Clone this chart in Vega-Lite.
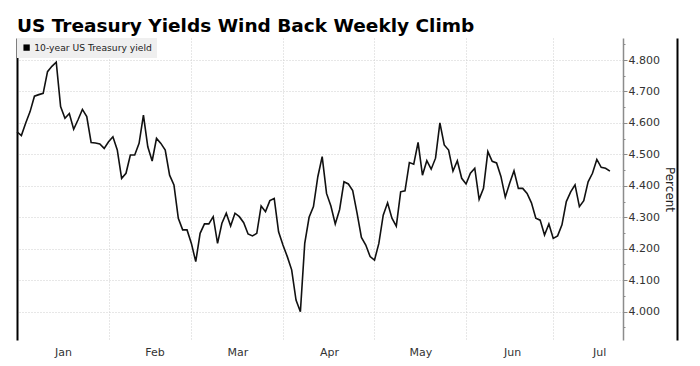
{
  "$schema": "https://vega.github.io/schema/vega-lite/v6.json",
  "width": 606,
  "height": 302,
  "autosize": {"type": "none"},
  "padding": {"left": 17, "top": 38, "right": 77, "bottom": 26},
  "background": "white",
  "title": {"text": "US Treasury Yields Wind Back Weekly Climb", "anchor": "start", "frame": "group", "font": "DejaVu Sans", "fontSize": 18.5, "fontWeight": "bold", "color": "#000", "offset": 3},
  "data": {"values": [
    {"date": "2024-12-31", "yield": 4.572},
    {"date": "2025-01-02", "yield": 4.560},
    {"date": "2025-01-03", "yield": 4.600},
    {"date": "2025-01-06", "yield": 4.636},
    {"date": "2025-01-07", "yield": 4.685},
    {"date": "2025-01-08", "yield": 4.690},
    {"date": "2025-01-09", "yield": 4.694},
    {"date": "2025-01-10", "yield": 4.763},
    {"date": "2025-01-13", "yield": 4.780},
    {"date": "2025-01-14", "yield": 4.793},
    {"date": "2025-01-15", "yield": 4.652},
    {"date": "2025-01-16", "yield": 4.615},
    {"date": "2025-01-17", "yield": 4.630},
    {"date": "2025-01-21", "yield": 4.580},
    {"date": "2025-01-22", "yield": 4.610},
    {"date": "2025-01-23", "yield": 4.643},
    {"date": "2025-01-24", "yield": 4.620},
    {"date": "2025-01-27", "yield": 4.538},
    {"date": "2025-01-28", "yield": 4.536},
    {"date": "2025-01-29", "yield": 4.533},
    {"date": "2025-01-30", "yield": 4.519},
    {"date": "2025-01-31", "yield": 4.540},
    {"date": "2025-02-03", "yield": 4.556},
    {"date": "2025-02-04", "yield": 4.514},
    {"date": "2025-02-05", "yield": 4.424},
    {"date": "2025-02-06", "yield": 4.440},
    {"date": "2025-02-07", "yield": 4.498},
    {"date": "2025-02-10", "yield": 4.498},
    {"date": "2025-02-11", "yield": 4.535},
    {"date": "2025-02-12", "yield": 4.625},
    {"date": "2025-02-13", "yield": 4.524},
    {"date": "2025-02-14", "yield": 4.479},
    {"date": "2025-02-18", "yield": 4.551},
    {"date": "2025-02-19", "yield": 4.535},
    {"date": "2025-02-20", "yield": 4.514},
    {"date": "2025-02-21", "yield": 4.434},
    {"date": "2025-02-24", "yield": 4.403},
    {"date": "2025-02-25", "yield": 4.297},
    {"date": "2025-02-26", "yield": 4.260},
    {"date": "2025-02-27", "yield": 4.260},
    {"date": "2025-02-28", "yield": 4.217},
    {"date": "2025-03-03", "yield": 4.159},
    {"date": "2025-03-04", "yield": 4.249},
    {"date": "2025-03-05", "yield": 4.279},
    {"date": "2025-03-06", "yield": 4.279},
    {"date": "2025-03-07", "yield": 4.302},
    {"date": "2025-03-10", "yield": 4.217},
    {"date": "2025-03-11", "yield": 4.281},
    {"date": "2025-03-12", "yield": 4.313},
    {"date": "2025-03-13", "yield": 4.272},
    {"date": "2025-03-14", "yield": 4.313},
    {"date": "2025-03-17", "yield": 4.302},
    {"date": "2025-03-18", "yield": 4.283},
    {"date": "2025-03-19", "yield": 4.247},
    {"date": "2025-03-20", "yield": 4.241},
    {"date": "2025-03-21", "yield": 4.249},
    {"date": "2025-03-24", "yield": 4.336},
    {"date": "2025-03-25", "yield": 4.318},
    {"date": "2025-03-26", "yield": 4.353},
    {"date": "2025-03-27", "yield": 4.360},
    {"date": "2025-03-28", "yield": 4.254},
    {"date": "2025-03-31", "yield": 4.212},
    {"date": "2025-04-01", "yield": 4.175},
    {"date": "2025-04-02", "yield": 4.133},
    {"date": "2025-04-03", "yield": 4.037},
    {"date": "2025-04-04", "yield": 4.000},
    {"date": "2025-04-07", "yield": 4.217},
    {"date": "2025-04-08", "yield": 4.300},
    {"date": "2025-04-09", "yield": 4.334},
    {"date": "2025-04-10", "yield": 4.429},
    {"date": "2025-04-11", "yield": 4.493},
    {"date": "2025-04-14", "yield": 4.376},
    {"date": "2025-04-15", "yield": 4.336},
    {"date": "2025-04-16", "yield": 4.279},
    {"date": "2025-04-17", "yield": 4.325},
    {"date": "2025-04-21", "yield": 4.413},
    {"date": "2025-04-22", "yield": 4.406},
    {"date": "2025-04-23", "yield": 4.385},
    {"date": "2025-04-24", "yield": 4.313},
    {"date": "2025-04-25", "yield": 4.236},
    {"date": "2025-04-28", "yield": 4.212},
    {"date": "2025-04-29", "yield": 4.175},
    {"date": "2025-04-30", "yield": 4.164},
    {"date": "2025-05-01", "yield": 4.217},
    {"date": "2025-05-02", "yield": 4.307},
    {"date": "2025-05-05", "yield": 4.346},
    {"date": "2025-05-06", "yield": 4.297},
    {"date": "2025-05-07", "yield": 4.272},
    {"date": "2025-05-08", "yield": 4.381},
    {"date": "2025-05-09", "yield": 4.384},
    {"date": "2025-05-12", "yield": 4.474},
    {"date": "2025-05-13", "yield": 4.469},
    {"date": "2025-05-14", "yield": 4.538},
    {"date": "2025-05-15", "yield": 4.434},
    {"date": "2025-05-16", "yield": 4.480},
    {"date": "2025-05-19", "yield": 4.453},
    {"date": "2025-05-20", "yield": 4.488},
    {"date": "2025-05-21", "yield": 4.600},
    {"date": "2025-05-22", "yield": 4.530},
    {"date": "2025-05-23", "yield": 4.514},
    {"date": "2025-05-27", "yield": 4.447},
    {"date": "2025-05-28", "yield": 4.480},
    {"date": "2025-05-29", "yield": 4.424},
    {"date": "2025-05-30", "yield": 4.406},
    {"date": "2025-06-02", "yield": 4.440},
    {"date": "2025-06-03", "yield": 4.456},
    {"date": "2025-06-04", "yield": 4.357},
    {"date": "2025-06-05", "yield": 4.392},
    {"date": "2025-06-06", "yield": 4.509},
    {"date": "2025-06-09", "yield": 4.478},
    {"date": "2025-06-10", "yield": 4.473},
    {"date": "2025-06-11", "yield": 4.430},
    {"date": "2025-06-12", "yield": 4.364},
    {"date": "2025-06-13", "yield": 4.408},
    {"date": "2025-06-16", "yield": 4.448},
    {"date": "2025-06-17", "yield": 4.392},
    {"date": "2025-06-18", "yield": 4.392},
    {"date": "2025-06-20", "yield": 4.376},
    {"date": "2025-06-23", "yield": 4.346},
    {"date": "2025-06-24", "yield": 4.297},
    {"date": "2025-06-25", "yield": 4.291},
    {"date": "2025-06-26", "yield": 4.244},
    {"date": "2025-06-27", "yield": 4.279},
    {"date": "2025-06-30", "yield": 4.233},
    {"date": "2025-07-01", "yield": 4.241},
    {"date": "2025-07-02", "yield": 4.276},
    {"date": "2025-07-03", "yield": 4.350},
    {"date": "2025-07-07", "yield": 4.381},
    {"date": "2025-07-08", "yield": 4.403},
    {"date": "2025-07-09", "yield": 4.334},
    {"date": "2025-07-10", "yield": 4.353},
    {"date": "2025-07-11", "yield": 4.413},
    {"date": "2025-07-14", "yield": 4.440},
    {"date": "2025-07-15", "yield": 4.484},
    {"date": "2025-07-16", "yield": 4.459},
    {"date": "2025-07-17", "yield": 4.456},
    {"date": "2025-07-18", "yield": 4.447}
  ]},
  "encoding": {
    "x": {
      "field": "date",
      "type": "ordinal",
      "scale": {"type": "point", "padding": 0.001, "domain": [
        "2024-12-31","2025-01-02","2025-01-03","2025-01-06","2025-01-07","2025-01-08","2025-01-09","2025-01-10","2025-01-13","2025-01-14","2025-01-15","2025-01-16","2025-01-17","2025-01-21","2025-01-22","2025-01-23","2025-01-24","2025-01-27","2025-01-28","2025-01-29","2025-01-30","2025-01-31",
        "2025-02-03","2025-02-04","2025-02-05","2025-02-06","2025-02-07","2025-02-10","2025-02-11","2025-02-12","2025-02-13","2025-02-14","2025-02-18","2025-02-19","2025-02-20","2025-02-21","2025-02-24","2025-02-25","2025-02-26","2025-02-27","2025-02-28",
        "2025-03-03","2025-03-04","2025-03-05","2025-03-06","2025-03-07","2025-03-10","2025-03-11","2025-03-12","2025-03-13","2025-03-14","2025-03-17","2025-03-18","2025-03-19","2025-03-20","2025-03-21","2025-03-24","2025-03-25","2025-03-26","2025-03-27","2025-03-28","2025-03-31",
        "2025-04-01","2025-04-02","2025-04-03","2025-04-04","2025-04-07","2025-04-08","2025-04-09","2025-04-10","2025-04-11","2025-04-14","2025-04-15","2025-04-16","2025-04-17","2025-04-21","2025-04-22","2025-04-23","2025-04-24","2025-04-25","2025-04-28","2025-04-29","2025-04-30",
        "2025-05-01","2025-05-02","2025-05-05","2025-05-06","2025-05-07","2025-05-08","2025-05-09","2025-05-12","2025-05-13","2025-05-14","2025-05-15","2025-05-16","2025-05-19","2025-05-20","2025-05-21","2025-05-22","2025-05-23","2025-05-27","2025-05-28","2025-05-29","2025-05-30",
        "2025-06-02","2025-06-03","2025-06-04","2025-06-05","2025-06-06","2025-06-09","2025-06-10","2025-06-11","2025-06-12","2025-06-13","2025-06-16","2025-06-17","2025-06-18","2025-06-20","2025-06-23","2025-06-24","2025-06-25","2025-06-26","2025-06-27","2025-06-30",
        "2025-07-01","2025-07-02","2025-07-03","2025-07-07","2025-07-08","2025-07-09","2025-07-10","2025-07-11","2025-07-14","2025-07-15","2025-07-16","2025-07-17","2025-07-18","2025-07-21","2025-07-22","2025-07-23"
      ]},
      "axis": {
        "values": ["2024-12-31","2025-01-31","2025-02-28","2025-03-31","2025-04-30","2025-05-30","2025-06-30"],
        "labelExpr": "datum.value == '2024-12-31' ? 'Jan' : datum.value == '2025-01-31' ? 'Feb' : datum.value == '2025-02-28' ? 'Mar' : datum.value == '2025-03-31' ? 'Apr' : datum.value == '2025-04-30' ? 'May' : datum.value == '2025-05-30' ? 'Jun' : 'Jul'",
        "labelOffset": 46,
        "labelAngle": 0,
        "labelAlign": "center",
        "labelOverlap": false,
        "labelFlush": false,
        "labelBound": false,
        "labelFont": "DejaVu Sans",
        "labelFontSize": 11,
        "labelColor": "#333",
        "labelPadding": 6,
        "ticks": false,
        "domain": false,
        "grid": true,
        "gridColor": {"condition": {"test": "datum.value == '2024-12-31'", "value": "#000000"}, "value": "#cfcfcf"},
        "gridDash": {"condition": {"test": "datum.value == '2024-12-31'", "value": []}, "value": [1, 2]},
        "gridWidth": {"condition": {"test": "datum.value == '2024-12-31'", "value": 2}, "value": 1},
        "title": null
      }
    }
  },
  "layer": [
    {
      "mark": {"type": "line", "strokeWidth": 1.6},
      "encoding": {
        "y": {
          "field": "yield",
          "type": "quantitative",
          "scale": {"domain": [3.91, 4.87], "zero": false, "nice": false},
          "axis": {
            "orient": "right",
            "values": [3.95, 4.0, 4.05, 4.1, 4.15, 4.2, 4.25, 4.3, 4.35, 4.4, 4.45, 4.5, 4.55, 4.6, 4.65, 4.7, 4.75, 4.8, 4.85],
            "labelExpr": "round(datum.value * 100) % 10 === 0 ? format(datum.value, '.3f') : ''",
            "labelFont": "DejaVu Sans",
            "labelFontSize": 11,
            "labelColor": "#333",
            "labelPadding": 1,
            "labelOverlap": false,
            "tickSize": {"condition": {"test": "round(datum.value * 100) % 10 !== 0", "value": 2}, "value": 4},
            "tickColor": "#8c8c8c",
            "domainColor": "#8c8c8c",
            "domainWidth": 1.5,
            "grid": true,
            "gridColor": "#cfcfcf",
            "gridDash": [1, 2],
            "gridOpacity": {"condition": {"test": "round(datum.value * 100) % 10 !== 0", "value": 0}, "value": 1},
            "title": "Percent",
            "titleFont": "DejaVu Sans",
            "titleFontSize": 12,
            "titleFontWeight": "normal",
            "titleColor": "#222",
            "titlePadding": 3
          }
        },
        "color": {
          "datum": "10-year US Treasury yield",
          "type": "nominal",
          "scale": {"range": ["#111111"]},
          "legend": {
            "orient": "top-left",
            "offset": 0,
            "title": null,
            "fillColor": "#efefef",
            "padding": 5,
            "symbolType": "square",
            "symbolSize": 40,
            "symbolFillColor": "#000",
            "symbolStrokeColor": "#000",
            "symbolStrokeWidth": 0,
            "labelFont": "DejaVu Sans",
            "labelFontSize": 9.2,
            "labelColor": "#222",
            "labelOffset": 3
          }
        }
      }
    },
    {
      "mark": {"type": "line", "opacity": 0},
      "encoding": {
        "y": {
          "field": "yield",
          "type": "quantitative",
          "scale": {"domain": [3.91, 4.87], "zero": false, "nice": false},
          "axis": {"orient": "left", "offset": -660, "labels": false, "ticks": false, "grid": false, "title": null, "domainColor": "#000", "domainWidth": 2}
        }
      }
    }
  ],
  "resolve": {"axis": {"y": "independent"}},
  "config": {"view": {"stroke": null}, "font": "DejaVu Sans"}
}
